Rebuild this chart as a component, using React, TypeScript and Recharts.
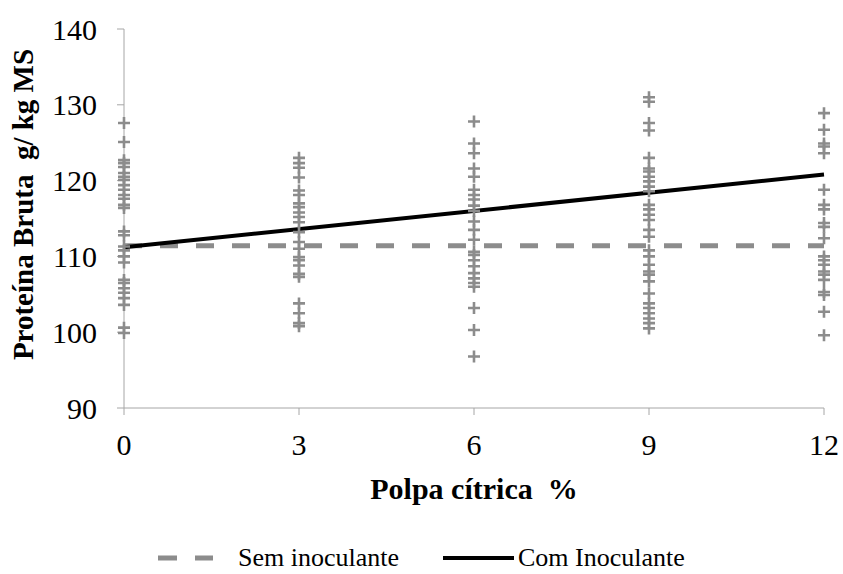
import React from "react";
import { ComposedChart, Line, Scatter, XAxis, YAxis } from "recharts";

const xTicks = [0, 3, 6, 9, 12];
const yTicks = [90, 100, 110, 120, 130, 140];

const pts0 = [127.6, 125.1, 122.7, 122.3, 121.8, 121.0, 120.5, 120.1, 119.4, 118.8, 118.1, 117.6, 116.8, 116.4, 113.3, 112.8, 111.3, 110.8, 110.0, 109.2, 106.9, 106.5, 105.8, 105.2, 104.5, 103.6, 100.6, 99.9];
const pts3 = [123.0, 122.3, 121.7, 120.4, 118.7, 118.1, 117.0, 116.5, 115.8, 115.2, 114.5, 113.2, 111.9, 111.0, 109.9, 109.5, 108.8, 107.7, 107.3, 103.8, 102.5, 101.2, 100.8];
const pts6 = [127.8, 124.9, 123.6, 121.6, 120.5, 118.8, 118.1, 117.5, 116.7, 116.0, 114.6, 113.5, 112.2, 110.6, 110.2, 109.5, 108.7, 107.8, 107.1, 106.5, 106.0, 103.2, 100.3, 96.8];
const pts9 = [131.0, 130.4, 127.6, 126.6, 123.0, 121.6, 121.2, 120.5, 119.9, 119.2, 118.6, 116.8, 116.2, 115.5, 114.8, 113.5, 112.6, 110.8, 110.0, 108.9, 108.0, 107.6, 106.7, 105.1, 103.8, 103.2, 102.5, 101.8, 101.2, 100.5];
const pts12 = [128.9, 126.7, 124.9, 124.5, 123.6, 118.8, 116.8, 116.2, 114.4, 113.9, 112.4, 110.0, 109.5, 108.9, 108.0, 107.6, 106.9, 105.3, 104.9, 102.7, 99.6];

const lineX = [0, 12];
const semInoc = [111.4, 111.4];
const comInoc = [111.2, 120.8];

const legendLabels = ["Sem inoculante", "Com Inoculante"];

const pointGroups: [number, number[]][] = [
  [0, pts0],
  [3, pts3],
  [6, pts6],
  [9, pts9],
  [12, pts12],
];
const scatterData = pointGroups.flatMap(([x, vals]) => vals.map((y) => ({ x, y })));
const lineData = lineX.map((x, i) => ({ x, sem: semInoc[i], com: comInoc[i] }));

const FONT = "'Liberation Serif', 'Times New Roman', serif";
const GRAY = "#8c8c8c";
const AXIS = "#a6a6a6";

const PlusShape = (props: any) => {
  const { cx, cy } = props;
  if (cx == null || cy == null) return null;
  return (
    <path
      d={`M${cx - 6},${cy}h12M${cx},${cy - 6}v12`}
      stroke={GRAY}
      strokeWidth={2.6}
      fill="none"
    />
  );
};

const YLabel = (props: any) => {
  const vb = props.viewBox || {};
  const cy = (vb.y || 0) + (vb.height || 0) / 2 - 14;
  const x = 33;
  return (
    <text
      x={x}
      y={cy}
      transform={`rotate(-90, ${x}, ${cy})`}
      textAnchor="middle"
      fontFamily={FONT}
      fontWeight="bold"
      fontSize={29}
      fill="#000"
      style={{ whiteSpace: "pre" }}
    >
      {"Proteína Bruta  g/ kg MS"}
    </text>
  );
};

const XLabel = (props: any) => {
  const vb = props.viewBox || {};
  const cx = (vb.x || 0) + (vb.width || 0) / 2;
  return (
    <text
      x={cx}
      y={499}
      textAnchor="middle"
      fontFamily={FONT}
      fontWeight="bold"
      fontSize={30}
      fill="#000"
      style={{ whiteSpace: "pre" }}
    >
      {"Polpa cítrica  %"}
    </text>
  );
};

export default function App() {
  return (
    <div style={{ position: "absolute", left: 0, top: 0, width: 843, height: 574, background: "#fff" }}>
      <ComposedChart
        width={843}
        height={574}
        data={lineData}
        margin={{ top: 29, right: 19, left: 0, bottom: 106 }}
      >
        <XAxis
          dataKey="x"
          type="number"
          domain={[0, 12]}
          ticks={xTicks}
          height={60}
          stroke={AXIS}
          tickSize={7}
          tickMargin={19}
          tick={{ fontFamily: FONT, fontSize: 30, fill: "#000" }}
          label={<XLabel />}
        />
        <YAxis
          type="number"
          domain={[90, 140]}
          ticks={yTicks}
          width={124}
          stroke={AXIS}
          tickSize={7}
          tickMargin={20}
          tick={{ fontFamily: FONT, fontSize: 30, fill: "#000" }}
          label={<YLabel />}
        />
        <Scatter
          data={scatterData}
          dataKey="y"
          shape={<PlusShape />}
          isAnimationActive={false}
          legendType="none"
        />
        <Line
          dataKey="sem"
          stroke={GRAY}
          strokeWidth={5}
          strokeDasharray="18 18"
          dot={false}
          activeDot={false}
          isAnimationActive={false}
        />
        <Line
          dataKey="com"
          stroke="#000"
          strokeWidth={4}
          dot={false}
          activeDot={false}
          isAnimationActive={false}
        />
      </ComposedChart>
      <svg width={843} height={34} style={{ position: "absolute", left: 0, top: 538 }}>
        <line x1={158} y1={20} x2={213} y2={20} stroke={GRAY} strokeWidth={5} strokeDasharray="19 18" />
        <text x={238} y={28} fontFamily={FONT} fontSize={26} fill="#000">{legendLabels[0]}</text>
        <line x1={443} y1={20} x2={514} y2={20} stroke="#000" strokeWidth={4} />
        <text x={518} y={28} fontFamily={FONT} fontSize={26} fill="#000">{legendLabels[1]}</text>
      </svg>
    </div>
  );
}
